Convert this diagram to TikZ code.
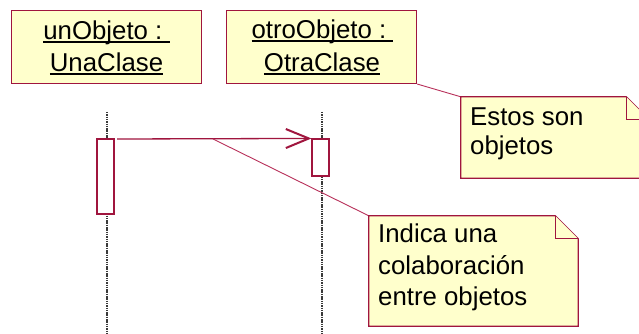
\documentclass[tikz,border=0pt]{standalone}
\usepackage{fontspec}
\setmainfont{Liberation Sans}
\usetikzlibrary{arrows.meta,calc}

\definecolor{umlfill}{HTML}{FFFFCC}
\definecolor{umlline}{HTML}{A0153E}
\definecolor{umllink}{HTML}{B8305A}
\definecolor{lifegray}{HTML}{3A3A3A}

% underline drawn at a fixed depth below the baseline
\newcommand\ulword[1]{\setbox0\hbox{#1}\rlap{\rule[-2.6pt]{\wd0}{1.2pt}}\box0}

% UML note: rectangle with a folded top-right corner
\newcommand\drawnote[1]{%
  \filldraw[noteedge]
    (#1.north west) -- ($(#1.north east)+(-23,0)$) -- ($(#1.north east)+(0,23)$)
    -- (#1.south east) -- (#1.south west) -- cycle;
  \draw[noteedge] ($(#1.north east)+(-23,0)$) |- ($(#1.north east)+(0,23)$);
}

\begin{document}
\begin{tikzpicture}[x=1pt,y=-1pt,
  objbox/.style={draw=umlline,fill=umlfill,line width=1.1pt,
    minimum width=190pt,minimum height=73pt,inner sep=0pt},
  actbox/.style={draw=umlline,fill=white,line width=1.1pt,
    minimum width=17pt,inner sep=0pt},
  notearea/.style={inner sep=0pt,draw=none},
  noteedge/.style={draw=umlline,fill=umlfill,line width=1.2pt,line join=miter},
  txt/.style={font=\fontsize{25.8}{30}\selectfont,text=black,inner sep=0pt},
  lifeline/.style={draw=lifegray,line width=1.1pt,dash pattern=on 1.5pt off 0.8pt},
  msg/.style={draw=umlline,line width=1.3pt,
    -{Straight Barb[length=23pt,width=19pt,line width=2pt]}},
  notelink/.style={draw=umllink,line width=0.9pt},
]
\useasboundingbox (0,0) rectangle (639,334);
\clip (0,0) rectangle (639,334);
\fill[white] (0,0) rectangle (639,334);

% object boxes
\node[objbox] (o1) at (106.3,46.8) {};
\node[objbox] (o2) at (321.7,47) {};
\node[txt,anchor=base] (o1a) at (106.5,40) {\ulword{unObjeto :\ }};
\node[txt,anchor=base] (o1b) at (106.5,72) {\ulword{UnaClase}};
\node[txt,anchor=base] (o2a) at (322.5,39) {\ulword{otroObjeto :\ }};
\node[txt,anchor=base] (o2b) at (322,72) {\ulword{OtraClase}};

% lifelines
\coordinate (l1top) at (107,112);
\coordinate (l1bot) at (107,334);
\coordinate (l2top) at (322,112);
\coordinate (l2bot) at (322,334);
\draw[lifeline] (l1top) -- (l1bot);
\draw[lifeline] (l2top) -- (l2bot);

% activations
\node[actbox,minimum height=75pt] (act1) at (105.5,176.5) {};
\node[actbox,minimum height=37pt] (act2) at (320.5,157.5) {};

% message
\coordinate (msgstart) at (117,139);
\coordinate (msgmid) at (213,139);
\draw[msg] (msgstart) -- (act2.north west);

% notes
\node[notearea,minimum width=188pt,minimum height=81pt] (n1) at (555,137.5) {};
\node[notearea,minimum width=209pt,minimum height=110pt] (n2) at (473.5,271) {};
\draw[notelink] (o2.south east) -- (n1.north west);
\draw[notelink] (msgmid) -- (n2.north west);
\drawnote{n1}
\drawnote{n2}

\node[txt,anchor=base west] (n1a) at (470,125) {Estos son};
\node[txt,anchor=base west] (n1b) at (470,154) {objetos};
\node[txt,anchor=base west] (n2a) at (378,242) {Indica una};
\node[txt,anchor=base west] (n2b) at (378,274) {colaboración};
\node[txt,anchor=base west] (n2c) at (378,305) {entre objetos};
\end{tikzpicture}
\end{document}
